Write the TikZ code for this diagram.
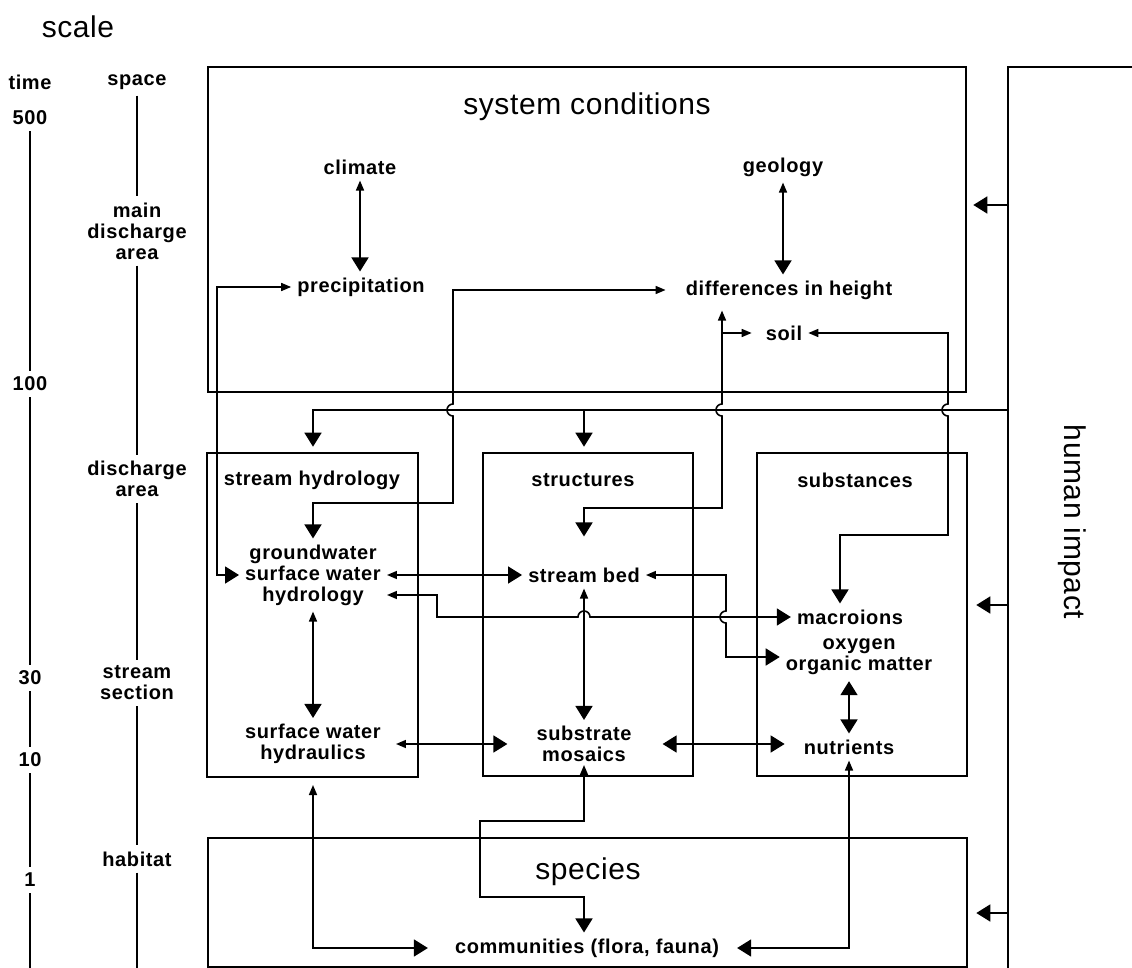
\documentclass[tikz,border=0pt]{standalone}
\usepackage{fontspec}
\setmainfont{Liberation Sans}
\newfontfamily\lblfam[LetterSpace=3]{Liberation Sans}
\newfontfamily\ttlfam[LetterSpace=2]{Liberation Sans}
\usetikzlibrary{arrows.meta}

\tikzset{
  box/.style={draw, line width=2.6pt, inner sep=0pt},
  lbl/.style={font=\lblfam\bfseries\fontsize{20pt}{21pt}\selectfont, align=center, inner sep=6pt},
  ttl/.style={font=\ttlfam\fontsize{30pt}{32pt}\selectfont, inner sep=2pt},
  conn/.style={line width=1.6pt},
  bigtip/.tip={Triangle[width=17pt,length=14pt]},
  smalltip/.tip={Triangle[width=8pt,length=10pt]}
}

\begin{document}
\begin{tikzpicture}[x=1pt, y=-1pt]
  \useasboundingbox (0,0) rectangle (1132,968);

  % scale
  \node[ttl] (scale) at (78,27) {scale};
  \node[lbl] (time) at (30,82) {time};
  \node[lbl] (space) at (137,82) {space};
  \node[lbl] (t500) at (30,118) {500};
  \node[lbl] (t100) at (30,384) {100};
  \node[lbl] (t30) at (30,678) {30};
  \node[lbl] (t10) at (30,760) {10};
  \node[lbl] (t1) at (30,880) {1};
  \node[lbl] (spmain) at (137,231) {main\\discharge\\area};
  \node[lbl] (spdis) at (137,479) {discharge\\area};
  \node[lbl] (spsec) at (137,683) {stream\\section};
  \node[lbl] (sphab) at (137,859) {habitat};
  \coordinate (tend) at (30,968);
  \coordinate (send) at (137,968);
  \draw[conn] (t500) -- (t100);
  \draw[conn] (t100) -- (t30);
  \draw[conn] (t30) -- (t10);
  \draw[conn] (t10) -- (t1);
  \draw[conn] (t1) -- (tend);
  \draw[conn] (space) -- (spmain);
  \draw[conn] (spmain) -- (spdis);
  \draw[conn] (spdis) -- (spsec);
  \draw[conn] (spsec) -- (sphab);
  \draw[conn] (sphab) -- (send);

  % boxes
  \node[box, minimum width=758pt, minimum height=325pt] (sys) at (587,229.5) {};
  \node[box, minimum width=211pt, minimum height=324pt] (shy) at (312.5,615) {};
  \node[box, minimum width=210pt, minimum height=323pt] (str) at (588,614.5) {};
  \node[box, minimum width=210pt, minimum height=323pt] (sub) at (862,614.5) {};
  \node[box, minimum width=759pt, minimum height=129pt] (spe) at (587.5,902.5) {};
  \node[box, line width=2.2pt, minimum width=160pt, minimum height=940pt] (hum) at (1088,537) {};

  \node[ttl] (sysT) at (587,107) {system conditions};
  \node[ttl] (speT) at (588,872) {species};
  \node[ttl, rotate=-90] (humT) at (1072,522) {human impact};
  \node[lbl] (shyT) at (312,480) {stream hydrology};
  \node[lbl] (strT) at (583,480) {structures};
  \node[lbl] (subT) at (855,480) {substances};

  % items
  \node[lbl] (clim) at (360,167) {climate};
  \node[lbl] (prec) at (361,287) {precipitation};
  \node[lbl] (geol) at (783,167) {geology};
  \node[lbl] (diff) at (789,290) {differences in height};
  \node[lbl] (soil) at (784,333) {soil};
  \node[lbl] (gw) at (313,575) {groundwater\\surface water\\hydrology};
  \node[lbl] (hydr) at (313,744) {surface water\\hydraulics};
  \node[lbl] (bed) at (584,575) {stream bed};
  \node[lbl] (mos) at (584,744) {substrate\\mosaics};
  \node[lbl] (mac) at (850,617) {macroions};
  \node[lbl] (oxy) at (859,657) {oxygen\\organic matter};
  \node[lbl] (nut) at (849,747) {nutrients};
  \node[lbl] (com) at (587,948) {communities (flora, fauna)};

  \coordinate (lft) at (217,0);
  \coordinate (dv) at (722,0);
  \coordinate (rA) at (0,205);
  \coordinate (rB) at (0,410);
  \coordinate (rC) at (0,605);
  \coordinate (rD) at (0,913);

  % connectors
  \draw[conn, smalltip-bigtip] (clim) -- (clim |- prec.north);
  \draw[conn, smalltip-bigtip] (geol) -- (geol |- diff.north);
  \draw[conn, smalltip-bigtip] (prec.west) -| (lft |- gw.west) -- (gw.west);
  \draw[conn, smalltip-bigtip, shorten <=14pt] (diff.west) -| (453,404)
    arc[start angle=90, end angle=270, radius=6pt] -- (453,503) -| (gw.north);
  \draw[conn, -bigtip, shorten >=5pt] (hum.west |- rB) -| (gw.north |- shy.north);
  \draw[conn, -bigtip, shorten >=5pt] (bed.north |- rB) -- (bed.north |- str.north);
  \draw[conn, smalltip-bigtip, shorten <=5pt, shorten >=25pt] (dv |- diff.south) -- (722,404)
    arc[start angle=90, end angle=270, radius=6pt] -- (722,508) -| (bed.north);
  \draw[conn, -smalltip, shorten >=8pt] (dv |- soil) -- (soil.west);
  \draw[conn, smalltip-bigtip] (soil.east) -| (948,404)
    arc[start angle=90, end angle=270, radius=6pt] -- (948,535) -| ([xshift=-10pt]mac.north);

  \draw[conn, smalltip-bigtip] (gw.east) -- (bed.west);
  \draw[conn, smalltip-bigtip] ([yshift=-20pt]gw.east) -| (437,617) -- (578,617)
    arc[start angle=180, end angle=0, radius=6pt] -- (mac.west);
  \draw[conn, smalltip-bigtip] (bed.east) -| (726,611)
    arc[start angle=90, end angle=270, radius=6pt] |- (oxy.west);
  \draw[conn, smalltip-bigtip] (gw) -- (hydr);
  \draw[conn, smalltip-bigtip] (bed) -- (mos);
  \draw[conn, bigtip-bigtip] (nut.north |- oxy.south) -- (nut.north);
  \draw[conn, smalltip-bigtip, shorten <=9pt, shorten >=23pt] (hydr.east) -- (mos.west);
  \draw[conn, bigtip-bigtip, shorten <=25pt, shorten >=13pt] (mos.east) -- (nut.west |- mos.east);

  \draw[conn, smalltip-bigtip, shorten <=15pt, shorten >=21pt] (hydr.south) |- (com.west);
  \draw[conn, smalltip-bigtip, shorten <=-3pt] (mos.south) -- ++(0,53) -| (480,897)
    -| (mos.south |- com.north);
  \draw[conn, smalltip-bigtip, shorten >=12pt] (nut.south) |- (com.east);

  \draw[conn, -bigtip, shorten >=6pt] (hum.west |- rA) -- (sys.east |- rA);
  \draw[conn, -bigtip, shorten >=8pt] (hum.west |- rC) -- (sub.east |- rC);
  \draw[conn, -bigtip, shorten >=8pt] (hum.west |- rD) -- (spe.east |- rD);
\end{tikzpicture}
\end{document}
